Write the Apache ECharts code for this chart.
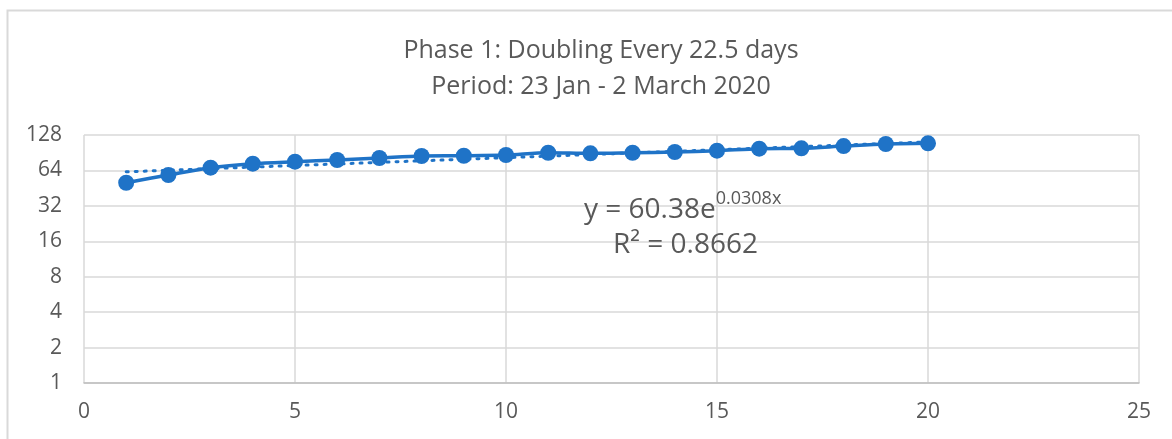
<!DOCTYPE html>
<html>
<head>
<meta charset="utf-8">
<title>Phase 1</title>
<script src="https://cdn.jsdelivr.net/npm/echarts@6/dist/echarts.min.js"></script>
<style>
	html, body { margin: 0; padding: 0; background: #fff; }
	#chart { width: 1172px; height: 439px; }
</style>
</head>
<body>
<div id="chart"></div>
<script>
	// days since 23 Jan, cases (log2 scale)
	var days = [1, 2, 3, 4, 5, 6, 7, 8, 9, 10, 11, 12, 13, 14, 15, 16, 17, 18, 19, 20];
	var cases = [50.3, 58.5, 67.5, 73, 75.9, 78.5, 81.6, 84.9, 85.3, 86.5, 90.5, 89.4, 90.5, 91.8, 94.2, 97.9, 98.6, 103, 107.3, 108.8];
	// trendline end points
	var trendX = [1, 20];
	var trendY = [62.3, 111.8];
	var yTicks = [1, 2, 4, 8, 16, 32, 64, 128];

	var grey = '#595959';
	var font = 'Open Sans';

	var myChart = echarts.init(document.getElementById('chart'));

	var pts = days.map(function (d, i) { return [d, cases[i]]; });
	var trend = trendX.map(function (d, i) { return [d, trendY[i]]; });

	var option = {
		backgroundColor: '#fff',
		animation: false,
		title: {
			text: 'Phase 1: Doubling Every 22.5 days\nPeriod: 23 Jan - 2 March 2020',
			left: 596,
			textAlign: 'center',
			top: 28,
			textStyle: {
				color: grey,
				fontFamily: font,
				fontWeight: 'normal',
				fontSize: 25,
				lineHeight: 36
			}
		},
		grid: { left: 84, right: 33, top: 135, bottom: 56 },
		xAxis: {
			type: 'value',
			min: 0,
			max: 25,
			interval: 5,
			axisLine: { show: true, onZero: false, lineStyle: { color: '#bfbfbf', width: 1.5 } },
			axisTick: { show: false },
			splitLine: { show: true, lineStyle: { color: '#d9d9d9', width: 1.5 } },
			axisLabel: { color: grey, fontFamily: font, fontSize: 21, margin: 19 }
		},
		yAxis: {
			type: 'log',
			logBase: 2,
			min: 1,
			max: 128,
			axisLine: { show: false },
			axisTick: { show: false },
			splitLine: { show: true, lineStyle: { color: '#d9d9d9', width: 1.5 } },
			axisLabel: {
				color: grey, fontFamily: font, fontSize: 21, margin: 22,
				formatter: function (v) {
					var r = Math.round(v);
					return yTicks.indexOf(r) >= 0 ? String(r) : '';
				}
			}
		},
		series: [{
			name: 'trend',
			type: 'line',
			data: trend,
			symbol: 'none',
			lineStyle: { color: '#1f73c7', width: 3, type: [2, 7], cap: 'round' },
			z: 2
		}, {
			name: 'cases',
			type: 'line',
			data: pts,
			smooth: 0.3,
			symbol: 'circle',
			symbolSize: 16,
			itemStyle: { color: '#1f73c7' },
			lineStyle: { color: '#1f73c7', width: 3.5 },
			z: 3
		}],
		graphic: [{
			type: 'rect',
			shape: { x: 7.5, y: 10.5, width: 1300, height: 600 },
			style: { fill: null, stroke: '#d9d9d9', lineWidth: 2 },
			silent: true
		}, {
			type: 'text',
			left: 584,
			top: 190,
			style: {
				text: '{a|y = 60.38e}{b|0.0308x}',
				rich: {
					a: { fontFamily: font, fontSize: 28, fill: grey, verticalAlign: 'bottom' },
					b: { fontFamily: font, fontSize: 18, fill: grey, padding: [0, 0, 16, 0], verticalAlign: 'bottom' }
				}
			},
			z: 10
		}, {
			type: 'text',
			left: 613,
			top: 231,
			style: { text: 'R² = 0.8662', fontFamily: font, fontSize: 28, fill: grey },
			z: 10
		}]
	};
	myChart.setOption(option);
</script>
</body>
</html>
